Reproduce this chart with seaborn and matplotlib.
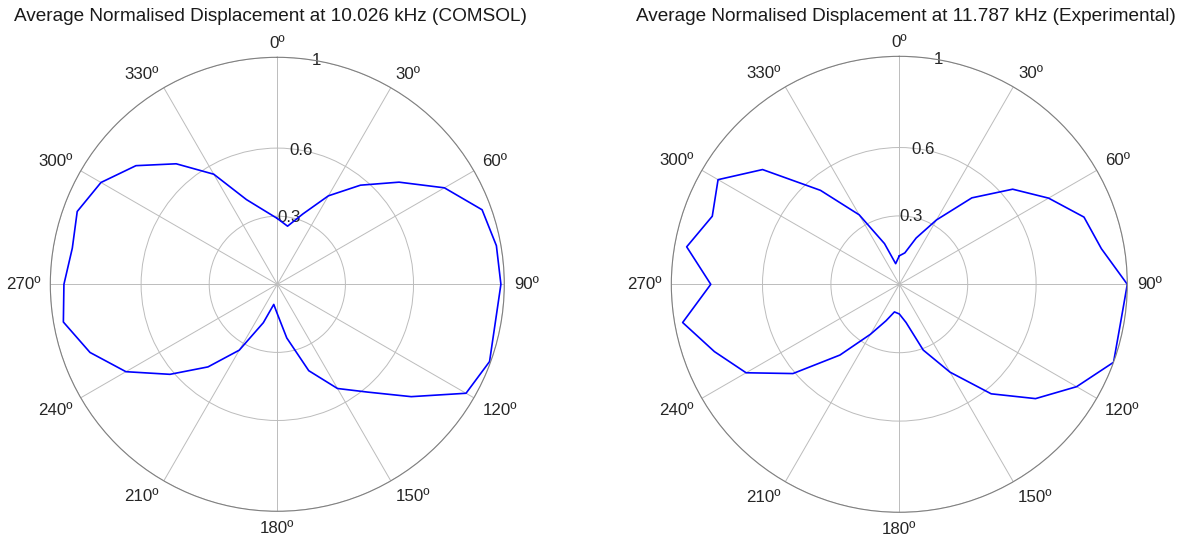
import numpy as np
import pandas as pd
import seaborn as sns
import matplotlib
import matplotlib.pyplot as plt

matplotlib.use('Agg')

# angles in degrees (measured clockwise from the top)
angles_deg = list(range(0, 360, 10))

# normalised displacement
comsol_r = [0.29, 0.26, 0.33, 0.45, 0.57, 0.70, 0.85, 0.96, 0.98, 0.985, 0.975, 0.995,
            0.96, 0.77, 0.62, 0.53, 0.405, 0.24, 0.13, 0.09, 0.18, 0.335, 0.475, 0.617,
            0.77, 0.878, 0.957, 0.94, 0.917, 0.938, 0.897, 0.813, 0.693, 0.56, 0.397, 0.33]
exp_r = [0.125, 0.14, 0.216, 0.326, 0.495, 0.649, 0.756, 0.862, 0.90, 1.0, 0.985, 1.0,
         0.898, 0.78, 0.627, 0.445, 0.307, 0.17, 0.13, 0.123, 0.17, 0.253, 0.405, 0.609,
         0.776, 0.863, 0.965, 0.827, 0.947, 0.873, 0.918, 0.783, 0.538, 0.352, 0.19, 0.092]

titles = ["Average Normalised Displacement at 10.026 kHz (COMSOL)",
          "Average Normalised Displacement at 11.787 kHz (Experimental)"]
theta_ticks = list(range(0, 360, 30))
theta_labels = [f"{t}º" for t in theta_ticks]
r_ticks = [0.3, 0.6, 1.0]
r_labels = ["0.3", "0.6", "1"]

sns.set_style("white")
plt.rcParams['font.family'] = ['Liberation Sans', 'DejaVu Sans']

fig = plt.figure(figsize=(11.87, 5.40), dpi=100)

# axes boxes (left, bottom, width, height) in figure fractions
boxes = [[0.04238, 0.05315, 0.38248, 0.84074],
         [0.56555, 0.0513, 0.38416, 0.8444]]
title_pos = [(14 / 1187, 'left'), (1176 / 1187, 'right')]


def make_frame(values):
    df = pd.DataFrame({"theta": np.deg2rad(angles_deg), "r": values})
    # close the loop
    first = df.iloc[[0]].copy()
    first["theta"] = 2 * np.pi
    return pd.concat([df, first], ignore_index=True)


def label_align(deg):
    # anchor the angle labels on the side facing the circle
    if deg in (0, 180):
        ha = 'center'
    elif deg < 180:
        ha = 'left'
    else:
        ha = 'right'
    if deg in (90, 270):
        va = 'center'
    elif deg < 90 or deg > 270:
        va = 'baseline'
    else:
        va = 'top'
    return ha, va


for i, values in enumerate([comsol_r, exp_r]):
    ax = fig.add_axes(boxes[i], projection='polar')
    ax.set_theta_zero_location('N')
    ax.set_theta_direction(-1)

    sns.lineplot(data=make_frame(values), x="theta", y="r", sort=False,
                 color="#0000ff", linewidth=1.2, ax=ax)

    ax.set_ylim(0, 1)
    ax.set_yticks(r_ticks)
    ax.set_yticklabels(r_labels)
    ax.set_rlabel_position(10)
    for lbl in ax.get_yticklabels():
        lbl.set_ha('center')
        lbl.set_va('center')
    ax.set_xticks(np.deg2rad(theta_ticks))
    ax.set_xticklabels(theta_labels)
    ax.tick_params(axis='x', pad=-3.5, labelsize=12.2, colors='#262626')
    ax.tick_params(axis='y', labelsize=12.2, colors='#262626')
    for deg, lbl in zip(theta_ticks, ax.get_xticklabels()):
        ha, va = label_align(deg)
        lbl.set_ha(ha)
        lbl.set_va(va)
    ax.grid(True, color='#bcbcbc', linewidth=0.7)
    ax.spines['polar'].set_color('#808080')
    ax.spines['polar'].set_linewidth(0.8)
    ax.set_xlabel("")
    ax.set_ylabel("")

    x, ha = title_pos[i]
    fig.text(x, 1 - 16.5 / 540, titles[i], ha=ha, va='center',
             fontsize=13.7, color='#1a1a1a')

plt.savefig("out.png", dpi=100)
plt.close()
